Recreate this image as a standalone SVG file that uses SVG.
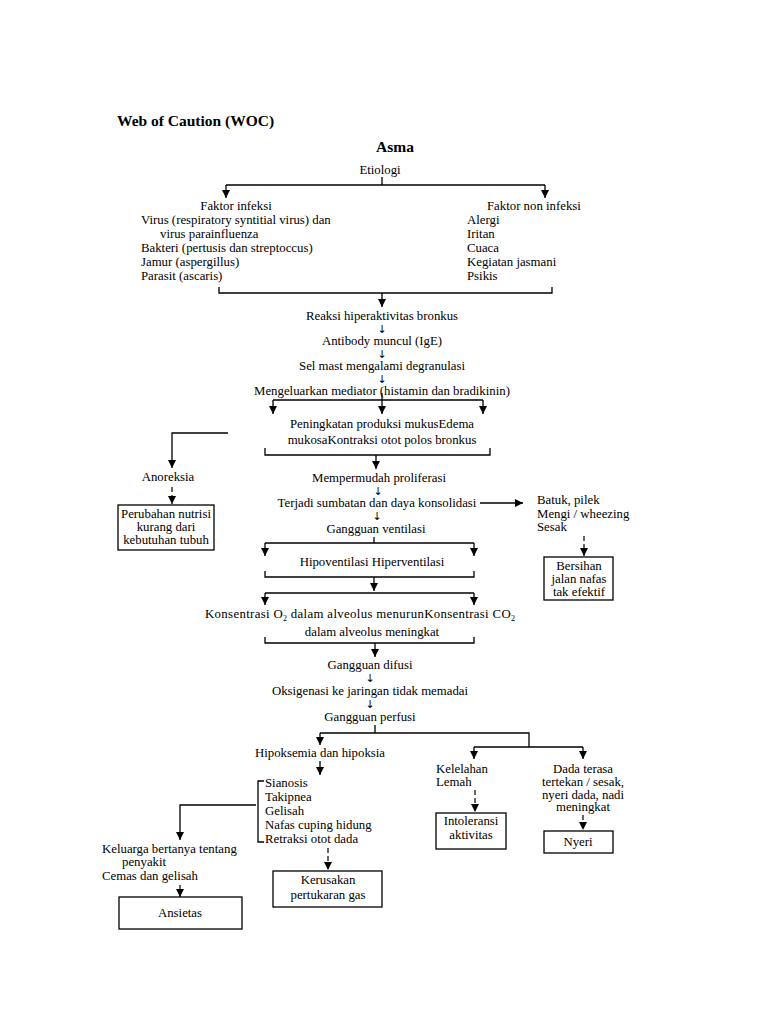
<svg xmlns="http://www.w3.org/2000/svg" width="768" height="1024" viewBox="0 0 768 1024">
<style>
text{font-family:"Liberation Serif","DejaVu Serif",serif;font-size:12.8px;fill:#000}
.c{text-anchor:middle}
.b{font-weight:bold;font-size:15.5px}
.ln{fill:none;stroke:#000;stroke-width:1.3}
.ar{fill:none;stroke:#000;stroke-width:1.3;marker-end:url(#ah)}
.da{fill:none;stroke:#000;stroke-width:1.2;stroke-dasharray:5,3;marker-end:url(#ah)}
.bx{fill:#fff;stroke:#000;stroke-width:1.3}
.dn{font-family:"DejaVu Sans","Liberation Sans",sans-serif;font-size:11px;text-anchor:middle;fill:#000}
</style>
<defs>
<marker id="ah" viewBox="0 0 10 10" refX="10" refY="5" markerWidth="8" markerHeight="8" markerUnits="userSpaceOnUse" orient="auto">
<path d="M0,0 L10,5 L0,10 z" fill="#000"/>
</marker>
</defs>
<rect width="768" height="1024" fill="#fff"/>

<g id="title"><text class="b" x="117" y="126">Web of Caution (WOC)</text></g>
<g id="asma"><text class="b c" x="395" y="152">Asma</text></g>
<g id="etiologi"><text class="c" x="380" y="174">Etiologi</text></g>

<g id="faktor-infeksi">
<text class="c" x="236" y="210">Faktor infeksi</text>
<text x="141" y="224">Virus (respiratory syntitial virus) dan</text>
<text x="160" y="238">virus parainfluenza</text>
<text x="141" y="252">Bakteri (pertusis dan streptoccus)</text>
<text x="141" y="266">Jamur (aspergillus)</text>
<text x="141" y="280">Parasit (ascaris)</text>
</g>
<g id="faktor-non-infeksi">
<text x="487" y="210">Faktor non infeksi</text>
<text x="467" y="224">Alergi</text>
<text x="467" y="238">Iritan</text>
<text x="467" y="252">Cuaca</text>
<text x="467" y="266">Kegiatan jasmani</text>
<text x="467" y="280">Psikis</text>
</g>

<g id="reaksi"><text class="c" x="382" y="320">Reaksi hiperaktivitas bronkus</text></g>
<g id="antibody"><text class="c" x="382" y="345">Antibody muncul (IgE)</text></g>
<g id="selmast"><text class="c" x="382" y="370">Sel mast mengalami degranulasi</text></g>
<g id="mediator"><text class="c" x="382" y="395">Mengeluarkan mediator (histamin dan bradikinin)</text></g>
<g id="peningkatan">
<text class="c" x="382" y="428">Peningkatan produksi mukusEdema</text>
<text class="c" x="382" y="444">mukosaKontraksi otot polos bronkus</text>
</g>
<g id="anoreksia"><text class="c" x="168" y="481">Anoreksia</text></g>
<g id="perubahan-nutrisi">
<rect class="bx" x="118" y="505" width="96" height="45"/>
<text class="c" x="166" y="518">Perubahan nutrisi</text>
<text class="c" x="166" y="531">kurang dari</text>
<text class="c" x="166" y="544">kebutuhan tubuh</text>
</g>
<g id="mempermudah"><text class="c" x="379" y="482">Mempermudah proliferasi</text></g>
<g id="sumbatan"><text class="c" x="377" y="507">Terjadi sumbatan dan daya konsolidasi</text></g>
<g id="batuk">
<text x="537" y="504">Batuk, pilek</text>
<text x="537" y="518">Mengi / wheezing</text>
<text x="537" y="531">Sesak</text>
</g>
<g id="bersihan">
<rect class="bx" x="544" y="557" width="69" height="43"/>
<text class="c" x="579" y="570">Bersihan</text>
<text class="c" x="579" y="583">jalan nafas</text>
<text class="c" x="579" y="596">tak efektif</text>
</g>
<g id="ventilasi"><text class="c" x="376" y="533">Gangguan ventilasi</text></g>
<g id="hipoventilasi"><text class="c" x="372" y="566">Hipoventilasi Hiperventilasi</text></g>
<g id="konsentrasi">
<text x="205" y="618" textLength="310" lengthAdjust="spacing">Konsentrasi O<tspan font-size="8" dy="3">2</tspan><tspan dy="-3"> dalam  alveolus menurunKonsentrasi CO</tspan><tspan font-size="8" dy="3">2</tspan></text>
<text class="c" x="372" y="636">dalam alveolus meningkat</text>
</g>
<g id="difusi"><text class="c" x="370" y="669">Gangguan difusi</text></g>
<g id="oksigenasi"><text class="c" x="370" y="695">Oksigenasi ke jaringan tidak memadai</text></g>
<g id="perfusi"><text class="c" x="370" y="721">Gangguan perfusi</text></g>
<g id="hipoksemia"><text class="c" x="320" y="757">Hipoksemia dan hipoksia</text></g>
<g id="gejala">
<text x="265" y="787">Sianosis</text>
<text x="265" y="801">Takipnea</text>
<text x="265" y="815">Gelisah</text>
<text x="265" y="829">Nafas cuping hidung</text>
<text x="265" y="843">Retraksi otot dada</text>
</g>
<g id="keluarga">
<text x="102" y="853">Keluarga bertanya tentang</text>
<text x="122" y="866">penyakit</text>
<text x="102" y="880">Cemas dan gelisah</text>
</g>
<g id="ansietas">
<rect class="bx" x="119" y="897" width="123" height="32"/>
<text class="c" x="180" y="917">Ansietas</text>
</g>
<g id="kerusakan">
<rect class="bx" x="273" y="871" width="109" height="36"/>
<text class="c" x="328" y="884">Kerusakan</text>
<text class="c" x="328" y="899">pertukaran gas</text>
</g>
<g id="kelelahan">
<text x="436" y="773">Kelelahan</text>
<text x="436" y="786">Lemah</text>
</g>
<g id="intoleransi">
<rect class="bx" x="436" y="813" width="70" height="36"/>
<text class="c" x="471" y="825">Intoleransi</text>
<text class="c" x="471" y="839">aktivitas</text>
</g>
<g id="dada">
<text class="c" x="583" y="773">Dada terasa</text>
<text class="c" x="583" y="786">tertekan / sesak,</text>
<text class="c" x="583" y="799">nyeri dada, nadi</text>
<text class="c" x="583" y="811">meningkat</text>
</g>
<g id="nyeri">
<rect class="bx" x="544" y="831" width="69" height="22"/>
<text class="c" x="578" y="846">Nyeri</text>
</g>

<g id="connectors">
<path class="ln" d="M382,177 V185 M226,185 H545"/>
<path class="ar" d="M226,185 V198"/>
<path class="ar" d="M545,185 V198"/>
<path class="ln" d="M219,287 V293 H552 V287"/>
<path class="ar" d="M382,293 V307"/>
<text class="dn" x="382" y="333">↓</text>
<text class="dn" x="382" y="358">↓</text>
<text class="dn" x="382" y="383">↓</text>
<path class="ln" d="M273,400 H483 M382,393 V400"/>
<path class="ar" d="M273,400 V414"/>
<path class="ar" d="M382,400 V414"/>
<path class="ar" d="M483,400 V414"/>
<path class="ar" d="M228,433 H172 V468"/>
<path class="ln" d="M265,448 V455 H490 V448"/>
<path class="ar" d="M376,455 V469"/>
<path class="da" d="M172,487 V504"/>
<text class="dn" x="378" y="495">↓</text>
<path class="ar" d="M480,503 H523"/>
<path class="da" d="M584,536 V556"/>
<text class="dn" x="377" y="520">↓</text>
<path class="ln" d="M374,537 V543 M265,543 H474"/>
<path class="ar" d="M265,543 V556"/>
<path class="ar" d="M474,543 V556"/>
<path class="ln" d="M265,571 V577 H474 V571"/>
<path class="ar" d="M374,577 V591"/>
<path class="ln" d="M265,593 H474"/>
<path class="ar" d="M265,593 V605"/>
<path class="ar" d="M474,593 V605"/>
<path class="ln" d="M265,637 V643 H474 V637"/>
<path class="ar" d="M375,643 V657"/>
<text class="dn" x="370" y="682">↓</text>
<text class="dn" x="370" y="708">↓</text>
<path class="ln" d="M375,725 V733 M320,733 H529 V747 M474,747 H583"/>
<path class="ar" d="M320,733 V745"/>
<path class="ar" d="M474,747 V759"/>
<path class="ar" d="M583,747 V759"/>
<path class="ar" d="M320,761 V775"/>
<path class="ln" d="M264,781 H258 V842 H264"/>
<path class="ar" d="M256,805 H180 V840"/>
<path class="da" d="M180,885 V897"/>
<path class="da" d="M328,848 V870"/>
<path class="da" d="M475,790 V812"/>
<path class="da" d="M583,815 V830"/>
</g>
</svg>
